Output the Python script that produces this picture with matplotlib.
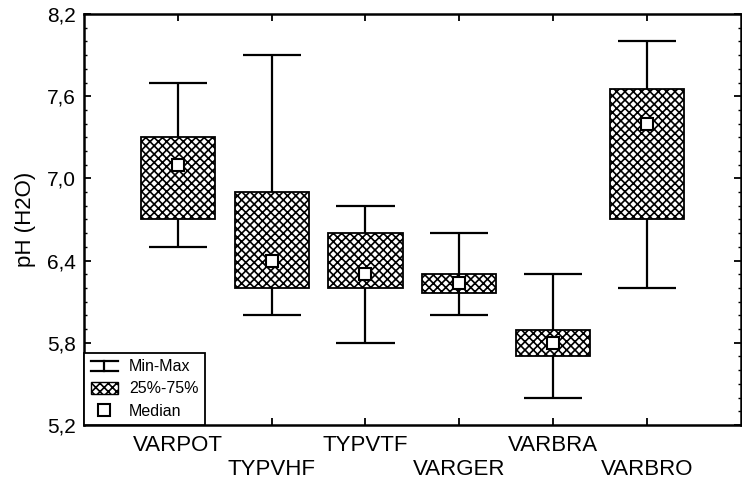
import numpy as np
import matplotlib
matplotlib.use('Agg')
import matplotlib.pyplot as plt
from matplotlib.lines import Line2D
from matplotlib.patches import Patch
from matplotlib.legend_handler import HandlerBase
from matplotlib.ticker import FuncFormatter, MultipleLocator

categories = ['VARPOT', 'TYPVHF', 'TYPVTF', 'VARGER', 'VARBRA', 'VARBRO']
mins = [6.5, 6.0, 5.8, 6.0, 5.4, 6.2]
q25 = [6.7, 6.2, 6.2, 6.16, 5.7, 6.7]
medians = [7.1, 6.4, 6.3, 6.24, 5.8, 7.4]
q75 = [7.3, 6.9, 6.6, 6.3, 5.89, 7.65]
maxs = [7.7, 7.9, 6.8, 6.6, 6.3, 8.0]
y_ticks = [5.2, 5.8, 6.4, 7.0, 7.6, 8.2]

plt.rcParams['font.family'] = ['Liberation Sans', 'DejaVu Sans']
plt.rcParams['hatch.linewidth'] = 1.2


class IBeamHandler(HandlerBase):
    def create_artists(self, legend, orig_handle, xdescent, ydescent,
                       width, height, fontsize, trans):
        cx = width / 2 - xdescent
        y0 = -ydescent + 0.1 * height
        y1 = height - ydescent - 0.1 * height
        hw = 0.5 * width
        kw = dict(color='black', lw=1.6, transform=trans)
        return [Line2D([cx, cx], [y0, y1], **kw),
                Line2D([cx - hw, cx + hw], [y0, y0], **kw),
                Line2D([cx - hw, cx + hw], [y1, y1], **kw)]


x = np.arange(len(categories))
lo = np.array(q25)
hi = np.array(q75)

fig = plt.figure(figsize=(7.42, 4.84), dpi=100)
ax = fig.add_axes([0.1135, 0.122, 0.8845, 0.849])

cap = 0.31
ax.vlines(x, mins, maxs, color='black', lw=1.6, zorder=1)
ax.hlines(mins, x - cap, x + cap, color='black', lw=1.6, zorder=1)
ax.hlines(maxs, x - cap, x + cap, color='black', lw=1.6, zorder=1)
ax.bar(x, hi - lo, bottom=lo, width=0.79, facecolor='white',
       edgecolor='black', hatch='xxxx', lw=1.3, zorder=2)
ax.plot(x, medians, 's', ms=9, mfc='white', mec='black', mew=1.5, zorder=3)

ax.set_xlim(-1, 6)
ax.set_ylim(5.2, 8.2)
ax.set_yticks(y_ticks)
ax.yaxis.set_minor_locator(MultipleLocator(0.1))
ax.yaxis.set_major_formatter(FuncFormatter(lambda v, _: f'{v:.1f}'.replace('.', ',')))
ax.set_xticks(x)
ax.set_xticklabels([c if i % 2 == 0 else '\n' + c for i, c in enumerate(categories)],
                   fontsize=16)
ax.tick_params(direction='in', top=True, right=True, length=5, width=1.3)
ax.tick_params(axis='y', labelsize=15, pad=6)
ax.tick_params(axis='x', pad=7)
ax.tick_params(which='minor', direction='in', right=True, length=2, width=1)
for s in ax.spines.values():
    s.set_linewidth(1.8)

ax.set_ylabel('pH (H2O)', fontsize=16, labelpad=8)

handles = [Line2D([], []),
           Patch(facecolor='white', edgecolor='black', hatch='xxxx', lw=1),
           Line2D([], [], marker='s', ls='none', ms=8, mfc='white',
                  mec='black', mew=1.5)]
leg = ax.legend(handles, ['Min-Max', '25%-75%', 'Median'], loc='lower left',
                borderaxespad=0, fontsize=11.5, fancybox=False,
                edgecolor='black', framealpha=1, handlelength=1.7,
                handleheight=0.8, labelspacing=0.45, borderpad=0.4,
                handletextpad=0.7, handler_map={handles[0]: IBeamHandler()})
leg.get_frame().set_linewidth(1.3)

fig.savefig('out.png', dpi=100)
